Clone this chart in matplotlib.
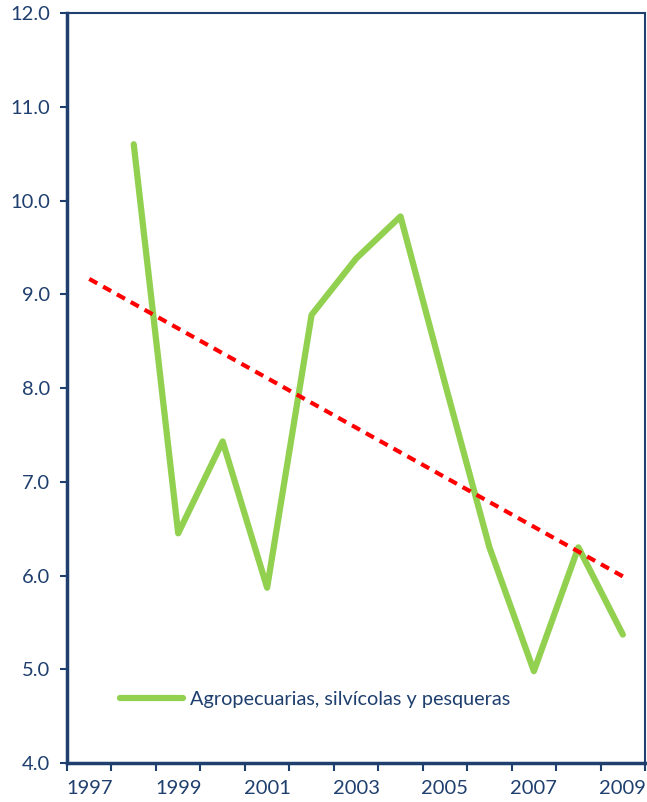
import numpy as np
import matplotlib
matplotlib.use('Agg')
import matplotlib.pyplot as plt

plt.rcParams['font.family'] = ['Lato', 'DejaVu Sans']

# años de la serie y valores
years = list(range(1997, 2010))
serie_years = list(range(1998, 2010))
valores = [10.6, 6.45, 7.43, 5.87, 8.78, 9.38, 9.83, 8.05, 6.3, 4.98, 6.3, 5.37]
etiqueta = 'Agropecuarias, silvícolas y pesqueras'

navy = '#1F3F6E'
verde = '#92D050'

fig = plt.figure(figsize=(6.47, 8.02), dpi=100)
ax = fig.add_axes([0.1036, 0.0486, 0.8934, 0.9352])

pos = [years.index(a) for a in serie_years]
ax.plot(pos, valores, color=verde, lw=4.5, solid_capstyle='round',
        solid_joinstyle='round', label=etiqueta)

# tendencia lineal
m, b = np.polyfit(pos, valores, 1)
xt = np.array([0, len(years) - 1])
ax.plot(xt, m * xt + b, color='#FF0000', lw=3, linestyle=(0, (2.2, 1.6)))

ax.set_xlim(-0.5, len(years) - 0.5)
ax.set_ylim(4, 12)
ax.set_yticks(np.arange(4, 12.1, 1))
ax.set_yticklabels([f'{v:.1f}' for v in np.arange(4, 12.1, 1)])

ax.set_xticks(range(0, len(years), 2))
ax.set_xticklabels([str(a) for a in years[::2]])
ax.set_xticks(np.arange(-0.5, len(years), 1), minor=True)
ax.tick_params(axis='x', which='major', length=0, pad=12)
ax.tick_params(axis='x', which='minor', length=6, width=1.5, color=navy, direction='out')
ax.tick_params(axis='y', length=5, width=1.5, color=navy, direction='out', pad=7)
ax.tick_params(labelsize=14.5, labelcolor=navy)

for s in ax.spines.values():
    s.set_color(navy)
    s.set_linewidth(1.5)
ax.spines['left'].set_linewidth(2.5)
ax.spines['bottom'].set_linewidth(2.5)

leg = ax.legend(loc='lower left', bbox_to_anchor=(0.06, 0.05), frameon=False,
                fontsize=14.3, handlelength=3.2, handletextpad=0.35)
for t in leg.get_texts():
    t.set_color(navy)

fig.savefig('out.png', dpi=100)
